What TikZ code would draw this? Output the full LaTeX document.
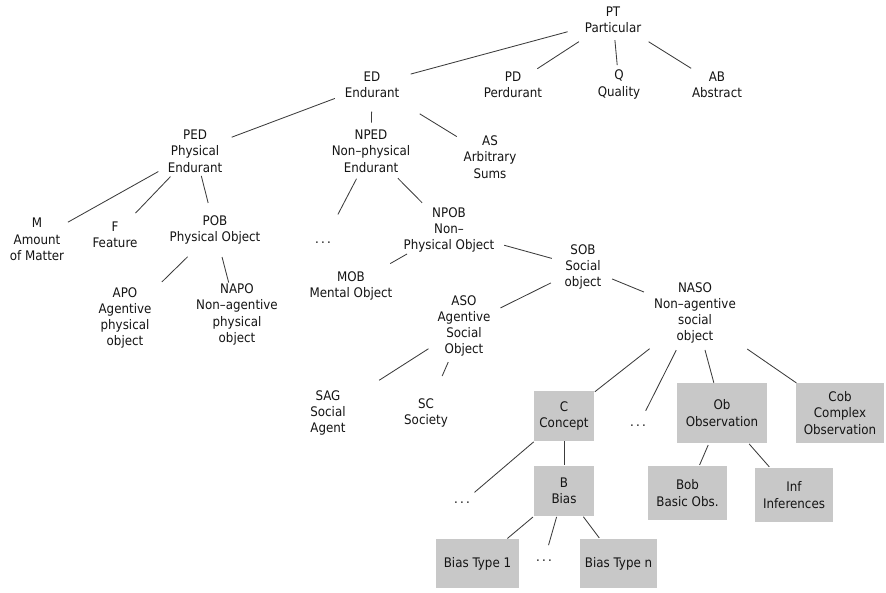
\documentclass[tikz,border=0pt]{standalone}
\usepackage{fontspec}
\setmainfont{DejaVu Sans}[FakeStretch=0.9]
\definecolor{boxgray}{RGB}{200,200,200}
\definecolor{linec}{RGB}{60,60,60}
\definecolor{txt}{RGB}{20,20,20}
\newcommand\edgeline[4]{\draw[conn,shorten <=#3pt,shorten >=#4pt] (#1.center) -- (#2.center);}
\begin{document}
\begin{tikzpicture}[x=1pt,y=-1pt,
  lbl/.style={align=center,inner sep=0pt,text=txt,font=\fontsize{13.2}{16.3}\selectfont},
  gbox/.style={lbl,fill=boxgray},
  conn/.style={draw=linec,line width=0.85pt}]
\useasboundingbox (0,0) rectangle (886,592);
% level 0/1
\node[lbl] (PT) at (613,19.5) {PT\\Particular};
\node[lbl] (ED) at (372,84.5) {ED\\Endurant};
\node[lbl] (PD) at (513,84.5) {PD\\Perdurant};
\node[lbl] (Q) at (619,84.5) {Q\\Quality};
\node[lbl] (AB) at (717,84.5) {AB\\Abstract};
% level 2
\node[lbl] (PED) at (195,151) {PED\\Physical\\Endurant};
\node[lbl] (NPED) at (371,151) {NPED\\Non–physical\\Endurant};
\node[lbl] (AS) at (490,157) {AS\\Arbitrary\\Sums};
% level 3
\node[lbl] (M) at (37,239.5) {M\\Amount\\of Matter};
\node[lbl] (F) at (115,234.5) {F\\Feature};
\node[lbl] (POB) at (215,230) {POB\\Physical Object};
\node[lbl] (dotsA) at (323,243) {.\,.\,.};
\node[lbl] (NPOB) at (449,230) {NPOB\\Non–\\Physical Object};
% level 4
\node[lbl] (APO) at (125,318) {APO\\Agentive\\physical\\object};
\node[lbl] (NAPO) at (237,314.5) {NAPO\\Non–agentive\\physical\\object};
\node[lbl] (MOB) at (351,286) {MOB\\Mental Object};
\node[lbl] (SOB) at (583,267) {SOB\\Social\\object};
\node[lbl] (ASO) at (464,326) {ASO\\Agentive\\Social\\Object};
\node[lbl] (NASO) at (695,313) {NASO\\Non–agentive\\social\\object};
\node[lbl] (SAG) at (328,413) {SAG\\Social\\Agent};
\node[lbl] (SC) at (426,413) {SC\\Society};
% gray boxes
\node[gbox,minimum width=60pt,minimum height=50pt] (C) at (564,416) {C\\Concept};
\node[lbl] (dotsB) at (638,426) {.\,.\,.};
\node[gbox,minimum width=90pt,minimum height=60pt] (Ob) at (722,413) {Ob\\Observation};
\node[gbox,minimum width=88pt,minimum height=60pt] (Cob) at (840,413) {Cob\\Complex\\Observation};
\node[lbl] (dotsC) at (462,503) {.\,.\,.};
\node[gbox,minimum width=60pt,minimum height=50pt] (B) at (564,491) {B\\Bias};
\node[gbox,minimum width=79pt,minimum height=54pt] (Bob) at (687.5,493) {Bob\\Basic Obs.};
\node[gbox,minimum width=78pt,minimum height=54pt] (Inf) at (794,495) {Inf\\Inferences};
\node[gbox,minimum width=83pt,minimum height=49pt] (BTa) at (477.5,563.5) {Bias Type 1};
\node[lbl] (dotsD) at (544,561) {.\,.\,.};
\node[gbox,minimum width=77pt,minimum height=49pt] (BTn) at (618.5,563.5) {Bias Type n};
% connectors
\edgeline{PT}{ED}{47}{40}
\edgeline{PT}{PD}{40.6}{29}
\edgeline{PT}{Q}{20.7}{19.5}
\edgeline{PT}{AB}{42}{30.5}
\edgeline{ED}{PED}{39.7}{39.2}
\edgeline{ED}{NPED}{27.2}{28.4}
\edgeline{ED}{AS}{56}{39}
\edgeline{PED}{M}{42}{35.4}
\edgeline{PED}{F}{35.4}{29.7}
\edgeline{PED}{POB}{25.7}{27.9}
\edgeline{POB}{APO}{38.2}{51.6}
\edgeline{POB}{NAPO}{27.9}{33}
\edgeline{NPED}{dotsA}{31.3}{32.2}
\edgeline{NPED}{NPOB}{38.2}{38.2}
\edgeline{NPOB}{MOB}{48.3}{45.2}
\edgeline{NPOB}{SOB}{57.3}{32.3}
\edgeline{SOB}{ASO}{35.8}{40.7}
\edgeline{SOB}{NASO}{31.4}{55.2}
\edgeline{ASO}{SAG}{42.2}{60.7}
\edgeline{ASO}{SC}{39.4}{40.3}
\edgeline{NASO}{C}{57.8}{39.2}
\edgeline{NASO}{dotsB}{41.6}{17.1}
\edgeline{NASO}{Ob}{38.3}{31.3}
\edgeline{NASO}{Cob}{63.5}{53}
\edgeline{C}{dotsC}{39.8}{16.4}
\edgeline{C}{B}{25}{26}
\edgeline{B}{BTa}{40.5}{39}
\edgeline{B}{dotsD}{26.9}{16.5}
\edgeline{B}{BTn}{32.2}{32}
\edgeline{Ob}{Bob}{34.9}{30.5}
\edgeline{Ob}{Inf}{41.2}{37.5}
\end{tikzpicture}
\end{document}
